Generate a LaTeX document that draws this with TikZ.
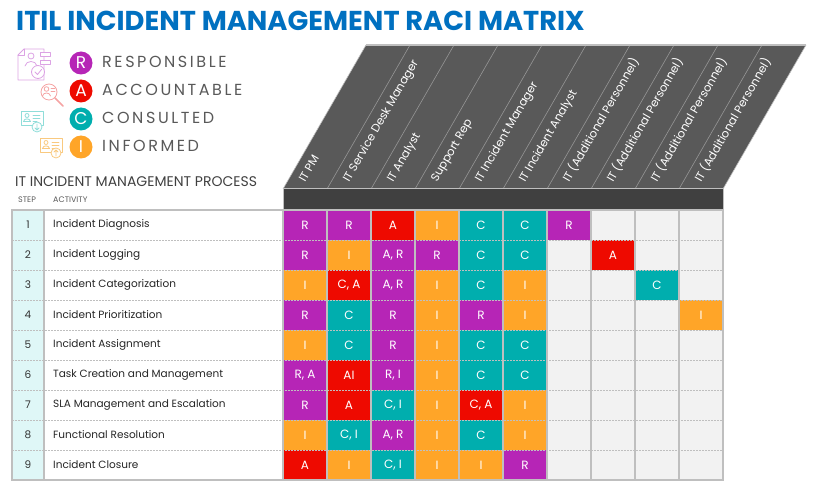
\documentclass[tikz,border=0pt]{standalone}
\usepackage{fontspec}
\setmainfont{Poppins}
\definecolor{raciR}{HTML}{B625B6}
\definecolor{raciA}{HTML}{EE0A00}
\definecolor{raciC}{HTML}{00AEAE}
\definecolor{raciI}{HTML}{FFA528}
\definecolor{titleblue}{HTML}{0070C0}
\definecolor{slantgray}{HTML}{595959}
\definecolor{bargray}{HTML}{404040}
\definecolor{gridgray}{HTML}{BFBFBF}
\definecolor{emptycell}{HTML}{F2F2F2}
\definecolor{stepfill}{HTML}{DFF7F7}
\definecolor{textgray}{HTML}{595959}
\definecolor{iconR}{HTML}{DCA3E4}
\definecolor{iconA}{HTML}{F5A3A3}
\definecolor{iconC}{HTML}{8FDDD9}
\definecolor{iconI}{HTML}{F9C97F}
\begin{document}
\begin{tikzpicture}[x=1pt, y=-1pt,
  cell/.style={rectangle, fill=#1, minimum width=44pt, minimum height=30pt, inner sep=0pt, text=white, font=\fontsize{12}{14}\selectfont},
  stepnum/.style={text=black!80, font=\fontsize{10.5}{12}\selectfont, inner sep=0pt},
  activity/.style={anchor=west, text=black!85, font=\fontsize{10.5}{12}\selectfont, inner sep=0pt},
  rolehead/.style={anchor=base west, rotate=60, text=white, font=\fontsize{11.5}{13}\selectfont, inner sep=0pt},
  raci/.style={circle, fill=#1, minimum size=23pt, inner sep=0pt, text=white, font=\fontsize{17}{17}\selectfont},
  racitext/.style={anchor=base west, inner sep=0pt, text=textgray, font=\fontsize{16}{18}\selectfont\addfontfeature{LetterSpace=16}},
  icon/.style={draw=#1, line width=0.8pt, line cap=round, line join=round}]
\useasboundingbox (0,0) rectangle (816,489);
\node[anchor=base west, inner sep=0pt, text=titleblue, font=\bfseries\fontsize{27.3}{32}\selectfont] (title) at (16,31) {ITIL INCIDENT MANAGEMENT RACI MATRIX};
% legend
\node[raci=raciR] (legR) at (81,63) {R};
\node[raci=raciA] (legA) at (81,91) {A};
\node[raci=raciC] (legC) at (81,119) {C};
\node[raci=raciI] (legI) at (81,147) {I};
\node[racitext] (txtR) at (102,68) {RESPONSIBLE};
\node[racitext] (txtA) at (102,96) {ACCOUNTABLE};
\node[racitext] (txtC) at (102,124) {CONSULTED};
\node[racitext] (txtI) at (102,152) {INFORMED};
% icons
\draw[icon=iconR] (24,49) -- (44,49) -- (44,80) -- (18,80) -- (18,55) -- cycle;
\draw[icon=iconR] (24,49) -- (24,55) -- (18,55);
\draw[icon=iconR] (31,56) circle (3);
\draw[icon=iconR] (25,66) .. controls (26,60) and (36,60) .. (37,66);
\draw[icon=iconR, fill=white] (40,52.5) rectangle (50,56.5);
\draw[icon=iconR, fill=white] (40,60) rectangle (50,64);
\draw[icon=iconR, fill=white] (38,72) circle (6.5);
\draw[icon=iconR] (35,72) -- (37.5,74.5) -- (41.5,69.5);
\draw[icon=iconA] (49,92) circle (8);
\draw[icon=iconA, line width=1.6pt] (55,98) -- (63,106);
\draw[icon=iconA] (46.5,89) circle (2.3);
\draw[icon=iconA] (42.5,96) .. controls (43,92) and (50,92) .. (50.5,96);
\draw[icon=iconA] (51,88) -- (55,88) (51,91) -- (55,91);
\draw[icon=iconC] (21,111) rectangle (43,125);
\draw[icon=iconC] (27,115.5) circle (2);
\draw[icon=iconC] (23.5,121.5) .. controls (24,118) and (30,118) .. (30.5,121.5) -- cycle;
\draw[icon=iconC] (33,115) -- (40,115) (33,118) -- (40,118) (33,121) -- (37,121);
\draw[icon=iconC, fill=white] (37,127) circle (5);
\draw[icon=iconC] (37,124) -- (37,130) (35,128) -- (37,130) -- (39,128);
\draw[icon=iconI] (40,138) rectangle (62,152);
\draw[icon=iconI] (46,142.5) circle (2);
\draw[icon=iconI] (42.5,148.5) .. controls (43,145) and (49,145) .. (49.5,148.5) -- cycle;
\draw[icon=iconI] (52,142) -- (59,142) (52,145) -- (59,145) (52,148) -- (55,148);
\draw[icon=iconI, fill=white] (56,153) circle (5);
\draw[icon=iconI] (56,156) -- (56,150) (54,152) -- (56,150) -- (58,152);
% process heading
\node[anchor=base west, inner sep=0pt, text=black!75, font=\fontsize{14}{16}\selectfont] (process) at (15,186) {IT INCIDENT MANAGEMENT PROCESS};
\node[anchor=base west, inner sep=0pt, text=textgray, font=\fontsize{8}{10}\selectfont] (steplbl) at (18,203) {STEP};
\node[anchor=base west, inner sep=0pt, text=textgray, font=\fontsize{8}{10}\selectfont] (actlbl) at (53,203) {ACTIVITY};
% header
\fill[slantgray] (283,189) -- (723,189) -- (806,45) -- (366,45) -- cycle;
\foreach \i in {1,...,9}
  \draw[gridgray!60!slantgray, line width=0.6pt] (283+44*\i,189) -- ++(83,-144);
\draw[gridgray, line width=0.6pt] (283,189) -- (366,45) (723,189) -- (806,45);
\draw[gridgray, line width=2pt] (366,45) -- (806,45);
\draw[fill=bargray, draw=gridgray, line width=1pt] (283,189) rectangle (723,209);
\node[rolehead] (h1) at (305,183) {IT PM};
\node[rolehead] (h2) at (349,183) {IT Service Desk Manager};
\node[rolehead] (h3) at (393,183) {IT Analyst};
\node[rolehead] (h4) at (437,183) {Support Rep};
\node[rolehead] (h5) at (481,183) {IT Incident Manager};
\node[rolehead] (h6) at (525,183) {IT Incident Analyst};
\node[rolehead] (h7) at (569,183) {IT (Additional Personnel)};
\node[rolehead] (h8) at (613,183) {IT (Additional Personnel)};
\node[rolehead] (h9) at (657,183) {IT (Additional Personnel)};
\node[rolehead] (h10) at (701,183) {IT (Additional Personnel)};
% table
\fill[stepfill] (12,210) rectangle (44,480);
\fill[white] (44,210) rectangle (283,480);
\fill[emptycell] (283,210) rectangle (723,480);
\node[stepnum] (s1) at (28,225) {1};
\node[stepnum] (s2) at (28,255) {2};
\node[stepnum] (s3) at (28,285) {3};
\node[stepnum] (s4) at (28,315) {4};
\node[stepnum] (s5) at (28,345) {5};
\node[stepnum] (s6) at (28,375) {6};
\node[stepnum] (s7) at (28,405) {7};
\node[stepnum] (s8) at (28,435) {8};
\node[stepnum] (s9) at (28,465) {9};
\node[activity] (a1) at (53,225) {Incident Diagnosis};
\node[activity] (a2) at (53,255) {Incident Logging};
\node[activity] (a3) at (53,285) {Incident Categorization};
\node[activity] (a4) at (53,315) {Incident Prioritization};
\node[activity] (a5) at (53,345) {Incident Assignment};
\node[activity] (a6) at (53,375) {Task Creation and Management};
\node[activity] (a7) at (53,405) {SLA Management and Escalation};
\node[activity] (a8) at (53,435) {Functional Resolution};
\node[activity] (a9) at (53,465) {Incident Closure};
\node[cell=raciR] (r1c1) at (305,225) {R};
\node[cell=raciR] (r1c2) at (349,225) {R};
\node[cell=raciA] (r1c3) at (393,225) {A};
\node[cell=raciI] (r1c4) at (437,225) {I};
\node[cell=raciC] (r1c5) at (481,225) {C};
\node[cell=raciC] (r1c6) at (525,225) {C};
\node[cell=raciR] (r1c7) at (569,225) {R};
\node[cell=raciR] (r2c1) at (305,255) {R};
\node[cell=raciI] (r2c2) at (349,255) {I};
\node[cell=raciR] (r2c3) at (393,255) {A, R};
\node[cell=raciR] (r2c4) at (437,255) {R};
\node[cell=raciC] (r2c5) at (481,255) {C};
\node[cell=raciC] (r2c6) at (525,255) {C};
\node[cell=raciA] (r2c8) at (613,255) {A};
\node[cell=raciI] (r3c1) at (305,285) {I};
\node[cell=raciA] (r3c2) at (349,285) {C, A};
\node[cell=raciR] (r3c3) at (393,285) {A, R};
\node[cell=raciI] (r3c4) at (437,285) {I};
\node[cell=raciC] (r3c5) at (481,285) {C};
\node[cell=raciI] (r3c6) at (525,285) {I};
\node[cell=raciC] (r3c9) at (657,285) {C};
\node[cell=raciR] (r4c1) at (305,315) {R};
\node[cell=raciC] (r4c2) at (349,315) {C};
\node[cell=raciR] (r4c3) at (393,315) {R};
\node[cell=raciI] (r4c4) at (437,315) {I};
\node[cell=raciR] (r4c5) at (481,315) {R};
\node[cell=raciI] (r4c6) at (525,315) {I};
\node[cell=raciI] (r4c10) at (701,315) {I};
\node[cell=raciI] (r5c1) at (305,345) {I};
\node[cell=raciC] (r5c2) at (349,345) {C};
\node[cell=raciR] (r5c3) at (393,345) {R};
\node[cell=raciI] (r5c4) at (437,345) {I};
\node[cell=raciC] (r5c5) at (481,345) {C};
\node[cell=raciC] (r5c6) at (525,345) {C};
\node[cell=raciR] (r6c1) at (305,375) {R, A};
\node[cell=raciA] (r6c2) at (349,375) {AI};
\node[cell=raciR] (r6c3) at (393,375) {R, I};
\node[cell=raciI] (r6c4) at (437,375) {I};
\node[cell=raciC] (r6c5) at (481,375) {C};
\node[cell=raciC] (r6c6) at (525,375) {C};
\node[cell=raciR] (r7c1) at (305,405) {R};
\node[cell=raciA] (r7c2) at (349,405) {A};
\node[cell=raciC] (r7c3) at (393,405) {C, I};
\node[cell=raciI] (r7c4) at (437,405) {I};
\node[cell=raciA] (r7c5) at (481,405) {C, A};
\node[cell=raciI] (r7c6) at (525,405) {I};
\node[cell=raciI] (r8c1) at (305,435) {I};
\node[cell=raciC] (r8c2) at (349,435) {C, I};
\node[cell=raciR] (r8c3) at (393,435) {A, R};
\node[cell=raciI] (r8c4) at (437,435) {I};
\node[cell=raciC] (r8c5) at (481,435) {C};
\node[cell=raciI] (r8c6) at (525,435) {I};
\node[cell=raciA] (r9c1) at (305,465) {A};
\node[cell=raciI] (r9c2) at (349,465) {I};
\node[cell=raciC] (r9c3) at (393,465) {C, I};
\node[cell=raciI] (r9c4) at (437,465) {I};
\node[cell=raciI] (r9c5) at (481,465) {I};
\node[cell=raciR] (r9c6) at (525,465) {R};
% grid
\foreach \y in {240,270,...,450}
  \draw[gridgray, line width=0.7pt, dash pattern=on 2pt off 1pt] (12,\y) -- (723,\y);
\foreach \x in {44,283,327,...,679}
  \draw[gridgray, line width=1.2pt] (\x,210) -- (\x,480);
\draw[gridgray, line width=1.5pt] (12,210) rectangle (723,480);
\end{tikzpicture}
\end{document}
